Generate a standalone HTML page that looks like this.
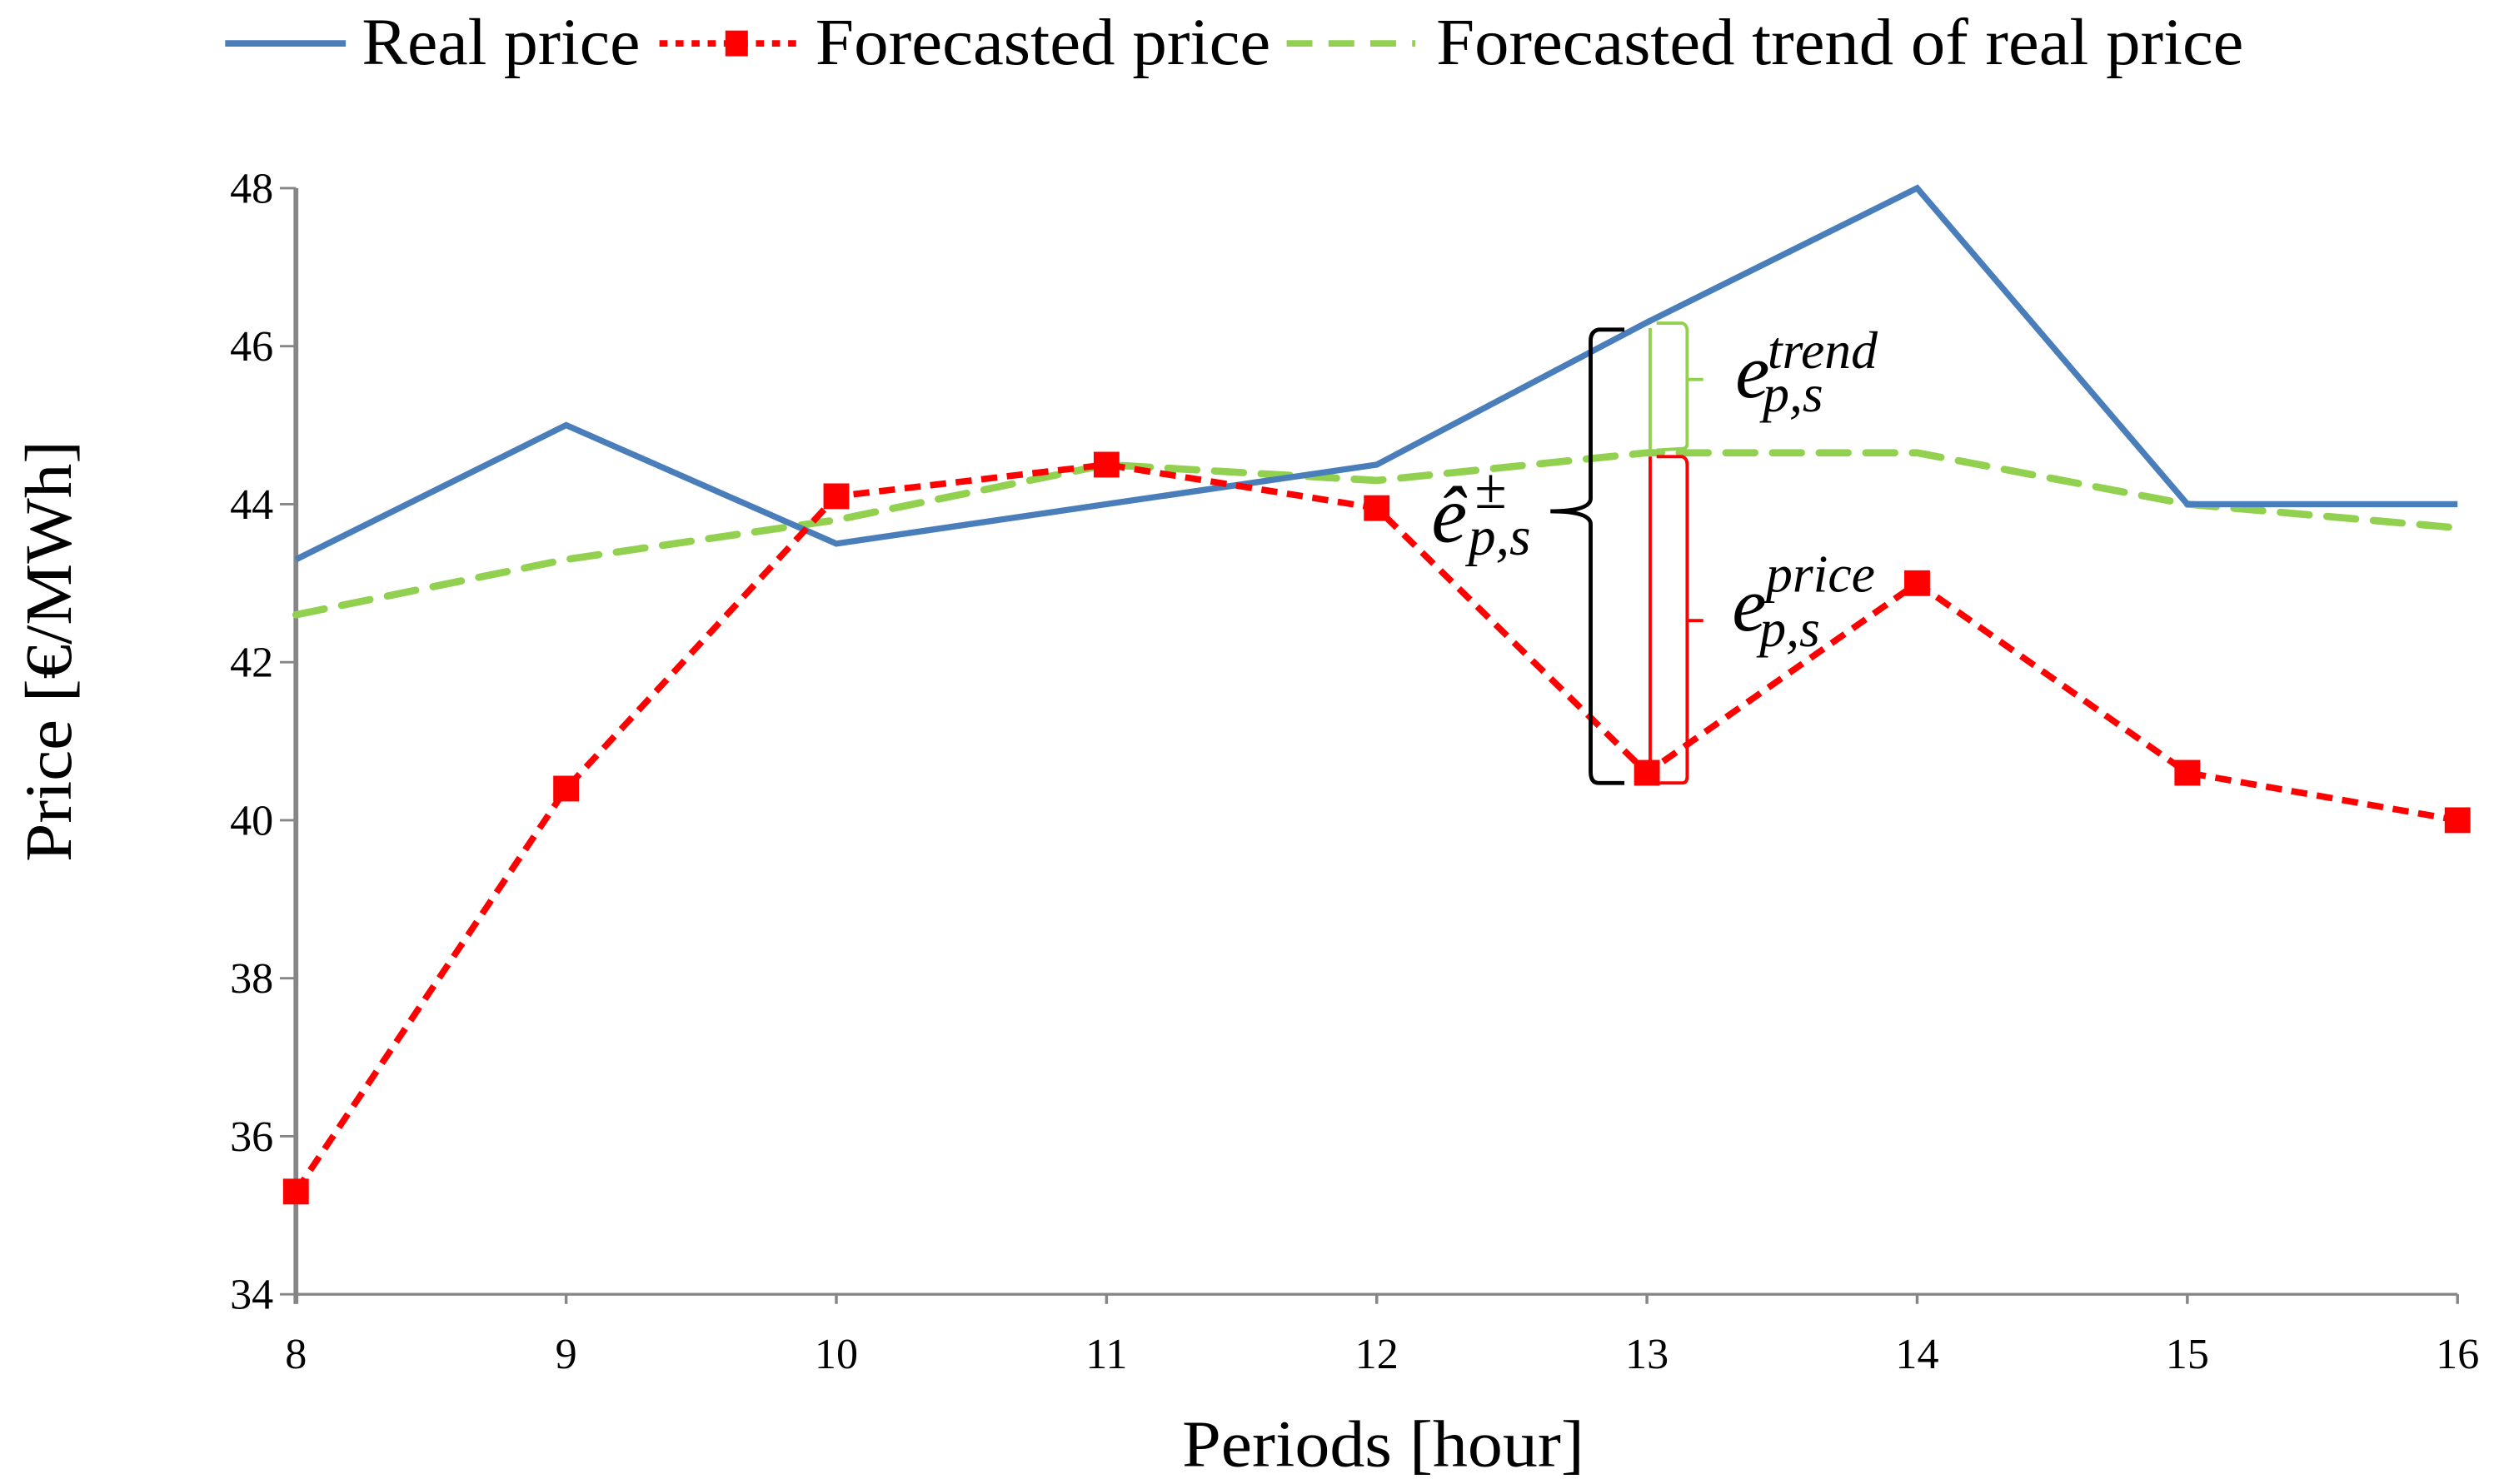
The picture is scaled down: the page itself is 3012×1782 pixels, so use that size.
<!DOCTYPE html>
<html><head><meta charset="utf-8"><style>
html,body{margin:0;padding:0;background:#fff;}
svg{display:block;}
text{font-family:"Liberation Serif",serif;fill:#000;}
</style></head><body>
<svg id="chart" width="3012" height="1782" viewBox="0 0 1560 923" preserveAspectRatio="none" xmlns="http://www.w3.org/2000/svg">
<g id="legend">
 <g>
  <line x1="140" y1="27" x2="215" y2="27" stroke="#4a7ebb" stroke-width="4"/>
  <text x="225" y="40" font-size="41" textLength="173" lengthAdjust="spacingAndGlyphs">Real price</text>
 </g>
 <g>
  <line x1="410" y1="27" x2="500" y2="27" stroke="#ff0000" stroke-width="4" stroke-dasharray="5,5"/>
  <rect x="451" y="19" width="14" height="16" fill="#ff0000"/>
  <text x="507" y="40" font-size="41" textLength="283" lengthAdjust="spacingAndGlyphs">Forecasted price</text>
 </g>
 <g>
  <line x1="800" y1="27" x2="880" y2="27" stroke="#92d050" stroke-width="4" stroke-dasharray="16,10"/>
  <text x="893" y="40" font-size="41" textLength="502" lengthAdjust="spacingAndGlyphs">Forecasted trend of real price</text>
 </g>
</g>
<g id="axes"></g>
<g id="series"></g>
<g id="annot">
 <path d="M1010,205 L994,205 Q989,206 989,212 L989,310 Q989,318 964,318 Q989,318 989,326 L989,480 Q989,487 994,487 L1010,487" fill="none" stroke="#000" stroke-width="2.5"/>
 <line x1="1026" y1="204" x2="1026" y2="282" stroke="#92d050" stroke-width="2"/>
 <path d="M1030,201 L1046,201 Q1049,202 1049,206 L1049,236 L1059,236 M1049,236 L1049,276 Q1049,279 1046,279 L1030,280" fill="none" stroke="#92d050" stroke-width="2"/>
 <line x1="1026" y1="284" x2="1026" y2="483" stroke="#ff0000" stroke-width="2"/>
 <path d="M1030,284 L1046,284 Q1049,285 1049,289 L1049,386 L1059,386 M1049,386 L1049,483 Q1049,487 1046,487 L1030,487" fill="none" stroke="#ff0000" stroke-width="2"/>
 <text x="890" y="337" font-size="50" font-style="italic">ê</text>
 <text x="913" y="345" font-size="34" font-style="italic">p,s</text>
 <text x="917" y="316" font-size="36">±</text>
 <text x="1079" y="247" font-size="48" font-style="italic">e</text>
 <text x="1099" y="229" font-size="33" font-style="italic">trend</text>
 <text x="1096" y="256" font-size="33" font-style="italic">p,s</text>
 <text x="1077" y="392" font-size="48" font-style="italic">e</text>
 <text x="1098" y="368" font-size="33" font-style="italic">price</text>
 <text x="1094" y="402" font-size="33" font-style="italic">p,s</text>
</g>
</svg>
<script>
const categories=[8,9,10,11,12,13,14,15,16];
const realPrice=[43.3,45.0,43.5,44.0,44.5,46.3,48.0,44.0,44.0];
const forecastPrice=[35.3,40.4,44.1,44.5,43.95,40.6,43.0,40.6,40.0];
const forecastTrend=[42.6,43.3,43.8,44.5,44.3,44.65,44.65,44.0,43.7];
const yTicks=[34,36,38,40,42,44,46,48];

const NS="http://www.w3.org/2000/svg";
const X0=184,X1=1528,Y0=805,Y1=117,ymin=34,ymax=48;
function xs(i){return X0+(X1-X0)*i/(categories.length-1);}
function ys(v){return Y0-(v-ymin)/(ymax-ymin)*(Y0-Y1);}
function mk(tag,attrs,parent){const e=document.createElementNS(NS,tag);for(const k in attrs)e.setAttribute(k,attrs[k]);parent.appendChild(e);return e;}
const axes=document.getElementById('axes'),series=document.getElementById('series');

let a=mk('line',{x1:X0,y1:Y0,x2:X1,y2:Y0,stroke:'#868686','stroke-width':1.8},axes);


a=mk('line',{x1:X0,y1:Y1,x2:X0,y2:Y0+6,stroke:'#868686','stroke-width':3},axes);


yTicks.forEach(v=>{
  const t=mk('line',{x1:X0-10,y1:ys(v),x2:X0,y2:ys(v),stroke:'#868686','stroke-width':1.5},axes);
  
  
  const l=mk('text',{x:X0-14,y:ys(v)+9,'font-size':27,'text-anchor':'end'},axes);
  l.textContent=v;
  
  
});
categories.forEach((c,i)=>{
  const t=mk('line',{x1:xs(i),y1:Y0,x2:xs(i),y2:Y0+6,stroke:'#868686','stroke-width':1.8},axes);
  
  
  const l=mk('text',{x:xs(i),y:Y0+46,'font-size':27,'text-anchor':'middle'},axes);
  l.textContent=c;
  
  
});
let t=mk('text',{x:735,y:912,'font-size':41,textLength:250,lengthAdjust:'spacingAndGlyphs'},axes);
t.textContent='Periods [hour]';


t=mk('text',{x:0,y:0,'font-size':41,textLength:262,lengthAdjust:'spacingAndGlyphs',transform:'translate(44,536) rotate(-90)'},axes);
t.textContent='Price [€/MWh]';



function pts(arr){return arr.map((v,i)=>xs(i)+','+ys(v)).join(' ');}
let p=mk('polyline',{points:pts(forecastTrend),fill:'none',stroke:'#92d050','stroke-width':4.5,'stroke-dasharray':'18,11','stroke-linecap':'round'},series);


p=mk('polyline',{points:pts(realPrice),fill:'none',stroke:'#4a7ebb','stroke-width':3.8},series);


p=mk('polyline',{points:pts(forecastPrice),fill:'none',stroke:'#ff0000','stroke-width':4,'stroke-dasharray':'10,6'},series);


forecastPrice.forEach((v,i)=>{
  const r=mk('rect',{x:xs(i)-8,y:ys(v)-8,width:16,height:16,fill:'#ff0000'},series);
  
  
});
</script>
</body></html>
